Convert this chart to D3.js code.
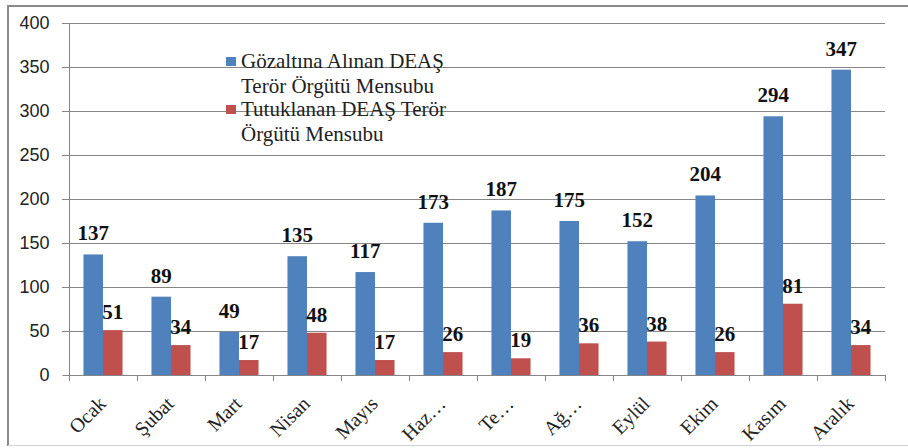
<!DOCTYPE html>
<html>
<head>
<meta charset="utf-8">
<script src="https://cdn.jsdelivr.net/npm/d3@7"></script>
<style>
body{margin:0;background:#fff;}
svg{display:block;}
</style>
</head>
<body>
<svg id="chart" width="908" height="448"></svg>
<script>
const months = ["Ocak","Şubat","Mart","Nisan","Mayıs","Haz…","Te…","Ağ…","Eylül","Ekim","Kasım","Aralık"];
const detained = [137,89,49,135,117,173,187,175,152,204,294,347];
const arrested = [51,34,17,48,17,26,19,36,38,26,81,34];
const seriesNames = ["Gözaltına Alınan DEAŞ Terör Örgütü Mensubu","Tutuklanan DEAŞ Terör Örgütü Mensubu"];
const legendLines = [["Gözaltına Alınan DEAŞ","Terör Örgütü Mensubu"],["Tutuklanan DEAŞ Terör","Örgütü Mensubu"]];
const yTicks = [0,50,100,150,200,250,300,350,400];
const colors = ["#4F81BD","#C0504D"];

const serif = "'Liberation Serif', 'Times New Roman', serif";
const svg = d3.select("#chart");
const L = 69, R = 885, T = 23, B = 375;

// outer border
svg.append("line").attr("x1",8).attr("x2",908).attr("y1",6).attr("y2",6).attr("stroke","#8a8a8a").attr("stroke-width",2);
svg.append("line").attr("x1",8).attr("x2",8).attr("y1",5).attr("y2",446).attr("stroke","#8a8a8a").attr("stroke-width",2);
svg.append("line").attr("x1",8).attr("x2",908).attr("y1",445.5).attr("y2",445.5).attr("stroke","#d0d0d0").attr("stroke-width",1);

const y = d3.scaleLinear().domain([0,400]).range([B,T]);
const x0 = d3.scaleBand().domain(months).range([L,R]).padding(0);
const x1 = d3.scaleBand().domain([0,1]).range([0,x0.bandwidth()]).paddingInner(0).paddingOuter(0.74);

// gridlines
svg.append("g").selectAll("line").data(yTicks.filter(d=>d>0)).join("line")
  .attr("x1",L-7).attr("x2",R).attr("y1",d=>Math.round(y(d))+0.5).attr("y2",d=>Math.round(y(d))+0.5)
  .attr("stroke","#868686").attr("stroke-width",1);

// y axis
const yAxis = svg.append("g").attr("transform",`translate(${L+0.5},0)`)
  .call(d3.axisLeft(y).tickValues(yTicks).tickSize(7).tickPadding(13));
yAxis.select(".domain").attr("stroke","#868686").attr("d",`M0,${T}V${B}`);
yAxis.selectAll(".tick line").attr("stroke","#868686");
yAxis.selectAll(".tick text").style("font-family","'Liberation Sans', Arial, sans-serif").style("font-size","18px").attr("fill","#222");

// bars
const data = months.map((m,i)=>({m, v:[detained[i],arrested[i]]}));
const groups = svg.append("g").selectAll("g").data(data).join("g")
  .attr("transform",d=>`translate(${x0(d.m)},0)`);
groups.selectAll("rect").data(d=>d.v.map((v,k)=>({v,k}))).join("rect")
  .attr("x",d=>x1(d.k)).attr("width",x1.bandwidth())
  .attr("y",d=>y(d.v)).attr("height",d=>B-y(d.v))
  .attr("fill",d=>colors[d.k]);

// value labels
groups.selectAll("text").data(d=>d.v.map((v,k)=>({v,k}))).join("text")
  .attr("x",d=>x1(d.k)+x1.bandwidth()/2)
  .attr("y",d=>y(d.v)-(d.k===0?14:11))
  .attr("text-anchor","middle")
  .style("font-family",serif)
  .style("font-weight","bold").style("font-size","21px").attr("fill","#111")
  .text(d=>d.v);

// x axis
const xAxisG = svg.append("g");
xAxisG.append("line").attr("x1",L).attr("x2",R+0.5).attr("y1",B+0.5).attr("y2",B+0.5).attr("stroke","#868686");
const bounds = months.map(m=>x0(m)).concat([R]);
xAxisG.selectAll("line.tk").data(bounds).join("line").attr("class","tk")
  .attr("x1",d=>Math.round(d)+0.5).attr("x2",d=>Math.round(d)+0.5).attr("y1",B).attr("y2",B+6).attr("stroke","#868686");
xAxisG.selectAll("text").data(months).join("text")
  .attr("transform",d=>`translate(${x0(d)+x0.bandwidth()/2+4},${B+30}) rotate(-45)`)
  .attr("text-anchor","end")
  .style("font-family",serif)
  .style("font-size","20px").attr("fill","#222")
  .text(d=>d);

// legend
const lg = svg.append("g");
legendLines.forEach((lines,k)=>{
  const baseY = 68 + k*48;
  lg.append("rect").attr("x",226).attr("y",baseY-11).attr("width",10).attr("height",9).attr("fill",colors[k]);
  lines.forEach((t,j)=>{
    lg.append("text").attr("x",241).attr("y",baseY+j*25)
      .style("font-family",serif)
      .style("font-size","21px").attr("fill","#222").text(t);
  });
});
</script>
</body>
</html>
